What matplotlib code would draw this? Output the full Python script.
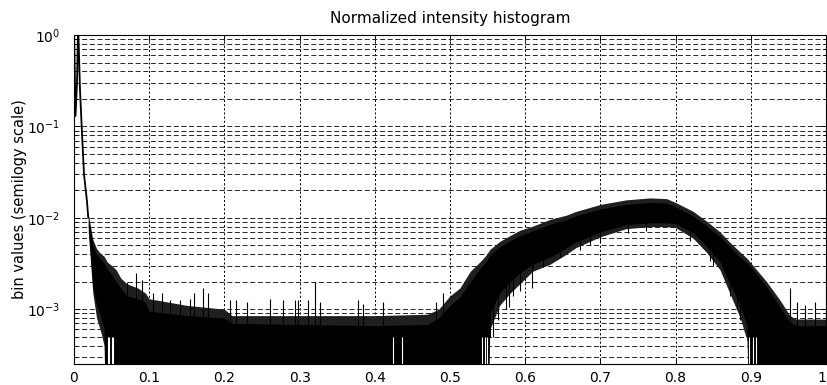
import matplotlib
matplotlib.use('Agg')
import matplotlib.pyplot as plt

plt.rcParams['font.family'] = ['DejaVu Sans']
plt.rcParams['lines.scale_dashes'] = False

FLOOR = 1e-5  # empty bins, they fall off the bottom of the log axis

# sharp peak next to zero intensity
head_x = [0.0, 0.002, 0.004, 0.0055, 0.008, 0.0106, 0.0133, 0.0173, 0.019]
head_y = [1.3, 0.13, 0.3, 1.3, 0.25, 0.085, 0.03, 0.015, 0.01]

# dense part of the histogram, read as envelopes of the black band
band_x = [0.019, 0.025, 0.030, 0.036, 0.040, 0.044, 0.050, 0.056, 0.062, 0.070,
          0.085, 0.095, 0.100, 0.150, 0.200, 0.210, 0.300, 0.400, 0.470, 0.485,
          0.500, 0.513, 0.527, 0.540, 0.548, 0.553, 0.566, 0.580, 0.593, 0.610,
          0.633, 0.655, 0.667, 0.700, 0.734, 0.766, 0.788, 0.800, 0.823, 0.841,
          0.859, 0.872, 0.886, 0.895, 0.900, 0.921, 0.939, 0.952, 0.960, 1.000]
core_hi = [1.0e-2, 5.0e-3, 4.0e-3, 3.5e-3, 3.2e-3, 2.8e-3, 2.4e-3, 2.0e-3, 1.7e-3, 1.4e-3,
           1.3e-3, 1.2e-3, 9.5e-4, 8.5e-4, 8.0e-4, 7.0e-4, 6.8e-4, 6.6e-4, 6.8e-4, 8.0e-4,
           1.1e-3, 1.35e-3, 2.0e-3, 2.8e-3, 3.3e-3, 3.9e-3, 4.8e-3, 5.6e-3, 6.4e-3, 7.2e-3,
           8.5e-3, 9.6e-3, 1.05e-2, 1.25e-2, 1.40e-2, 1.47e-2, 1.45e-2, 1.32e-2, 1.05e-2, 8.2e-3,
           6.2e-3, 4.8e-3, 3.7e-3, 3.2e-3, 2.9e-3, 1.75e-3, 1.05e-3, 7.2e-4, 6.6e-4, 6.6e-4]
core_lo = [8.0e-3, 1.8e-3, 1.1e-3, 8.0e-4, 6.0e-4, FLOOR, FLOOR, FLOOR, FLOOR, FLOOR,
           FLOOR, FLOOR, FLOOR, FLOOR, FLOOR, FLOOR, FLOOR, FLOOR, FLOOR, FLOOR,
           FLOOR, FLOOR, FLOOR, FLOOR, FLOOR, 9.0e-4, 1.5e-3, 2.0e-3, 2.5e-3, 3.1e-3,
           3.7e-3, 4.7e-3, 5.4e-3, 7.0e-3, 8.4e-3, 8.8e-3, 8.8e-3, 8.6e-3, 6.9e-3, 4.9e-3,
           3.3e-3, 1.9e-3, 1.1e-3, 6.5e-4, FLOOR, FLOOR, FLOOR, FLOOR, FLOOR, FLOOR]
fringe_hi = [1.1e-2, 5.8e-3, 4.6e-3, 4.0e-3, 3.8e-3, 3.3e-3, 3.0e-3, 2.7e-3, 2.2e-3, 1.9e-3,
             1.7e-3, 1.5e-3, 1.3e-3, 1.1e-3, 1.0e-3, 8.5e-4, 8.5e-4, 8.5e-4, 8.8e-4, 1.0e-3,
             1.4e-3, 1.7e-3, 2.6e-3, 3.3e-3, 3.9e-3, 4.5e-3, 5.5e-3, 6.4e-3, 7.3e-3, 8.1e-3,
             9.6e-3, 1.07e-2, 1.17e-2, 1.40e-2, 1.57e-2, 1.65e-2, 1.62e-2, 1.47e-2, 1.18e-2, 9.2e-3,
             7.0e-3, 5.4e-3, 4.2e-3, 3.6e-3, 3.2e-3, 2.0e-3, 1.25e-3, 8.5e-4, 7.8e-4, 7.8e-4]
fringe_lo = [7.0e-3, 1.5e-3, 8.0e-4, 5.5e-4, 4.0e-4, FLOOR, FLOOR, FLOOR, FLOOR, FLOOR,
             FLOOR, FLOOR, FLOOR, FLOOR, FLOOR, FLOOR, FLOOR, FLOOR, FLOOR, FLOOR,
             FLOOR, FLOOR, FLOOR, FLOOR, FLOOR, 6.0e-4, 1.1e-3, 1.5e-3, 1.9e-3, 2.6e-3,
             3.1e-3, 4.0e-3, 4.7e-3, 6.2e-3, 7.6e-3, 8.0e-3, 8.0e-3, 7.8e-3, 6.0e-3, 4.2e-3,
             2.7e-3, 1.5e-3, 8.0e-4, 4.5e-4, FLOOR, FLOOR, FLOOR, FLOOR, FLOOR, FLOOR]

# single tall bins sticking out of the flat floor
spike_x = [0.057, 0.070, 0.083, 0.090, 0.105, 0.117, 0.128, 0.141, 0.154, 0.159,
           0.172, 0.178, 0.207, 0.216, 0.230, 0.261, 0.278, 0.294, 0.298, 0.311,
           0.320, 0.327, 0.378, 0.384, 0.411, 0.482, 0.491, 0.952, 0.962, 0.972,
           0.985, 1.000]
spike_y = [2.0e-3, 2.0e-3, 2.5e-3, 2.1e-3, 1.5e-3, 1.5e-3, 1.26e-3, 1.26e-3, 1.3e-3, 1.5e-3,
           1.7e-3, 1.5e-3, 1.26e-3, 1.26e-3, 1.2e-3, 1.3e-3, 1.26e-3, 1.26e-3, 1.26e-3, 1.26e-3,
           2.0e-3, 1.2e-3, 1.26e-3, 1.15e-3, 1.2e-3, 1.2e-3, 1.5e-3, 1.7e-3, 1.2e-3, 1.1e-3,
           1.2e-3, 2.9e-3]

# low bins hanging under the main bump
dip_x = [0.553, 0.557, 0.564, 0.575, 0.578, 0.584, 0.593, 0.609, 0.611, 0.624,
         0.646, 0.673, 0.686, 0.700, 0.737, 0.761, 0.819, 0.846, 0.850, 0.872,
         0.881, 0.886]
dip_lo = [5.0e-4, 5.0e-4, 7.6e-4, 1.0e-3, 1.05e-3, 1.4e-3, 1.6e-3, 1.7e-3, 2.8e-3, 2.9e-3,
          3.7e-3, 4.4e-3, 5.0e-3, 5.5e-3, 6.8e-3, 7.2e-3, 5.6e-3, 3.4e-3, 3.0e-3, 1.4e-3,
          1.0e-3, 7.6e-4]
dip_hi = [2.0e-3, 2.0e-3, 2.5e-3, 3.0e-3, 3.0e-3, 3.2e-3, 3.5e-3, 4.0e-3, 4.0e-3, 4.5e-3,
          5.5e-3, 6.5e-3, 7.0e-3, 8.0e-3, 9.0e-3, 9.5e-3, 8.0e-3, 6.0e-3, 5.5e-3, 3.0e-3,
          2.5e-3, 2.0e-3]

# empty bins showing as white gaps
gap_x = [0.045, 0.047, 0.050, 0.052, 0.424, 0.436, 0.543, 0.546, 0.549, 0.893,
         0.897, 0.903, 0.907]
gap_y = [5.0e-4, 5.0e-4, 5.0e-4, 5.0e-4, 5.0e-4, 5.0e-4, 5.0e-4, 5.0e-4, 5.0e-4, 5.0e-4,
         5.0e-4, 5.0e-4, 5.0e-4]

x_ticks = [0, 0.1, 0.2, 0.3, 0.4, 0.5, 0.6, 0.7, 0.8, 0.9, 1.0]
x_labels = ['0', '0.1', '0.2', '0.3', '0.4', '0.5', '0.6', '0.7', '0.8', '0.9', '1']

fig = plt.figure(figsize=(8.27, 3.85), dpi=100)
ax = fig.add_axes([74 / 827, 21 / 385, 752 / 827, 329 / 385])
ax.set_yscale('log')

ax.fill_between(band_x, fringe_lo, fringe_hi, color='0.12', lw=0)
ax.fill_between(band_x, core_lo, core_hi, color='k', lw=0)
ax.plot(head_x, head_y, color='k', lw=1.3)
ax.vlines(spike_x, FLOOR, spike_y, color='k', lw=0.8)
ax.vlines(dip_x, dip_lo, dip_hi, color='k', lw=0.8)
ax.vlines(gap_x, FLOOR, gap_y, color='w', lw=0.8)

ax.set_xlim(0, 1)
ax.set_ylim(10 ** -3.6, 1)
ax.set_xticks(x_ticks)
ax.set_xticklabels(x_labels)
ax.get_xticklabels()[-1].set_ha('right')

ax.set_axisbelow(True)
ax.grid(True, which='major', axis='x', color='k', lw=0.7, linestyle=(0, (1.5, 1.5)))
ax.grid(True, which='both', axis='y', color='0.15', lw=0.7, linestyle=(0, (3.6, 1.9)))

ax.tick_params(which='both', direction='in', top=True, right=True, labelsize=10)
ax.tick_params(which='major', length=4, width=0.7)
ax.tick_params(which='minor', length=2, width=0.6)
ax.tick_params(axis='x', pad=5)
ax.tick_params(axis='y', pad=10)
for s in ax.spines.values():
    s.set_linewidth(0.8)

ax.set_title('Normalized intensity histogram', fontsize=11, pad=9)
ax.set_ylabel('bin values (semilogy scale)', fontsize=10.5)
ax.yaxis.set_label_coords(-0.062, 0.5)

fig.savefig('out.png', dpi=100)
